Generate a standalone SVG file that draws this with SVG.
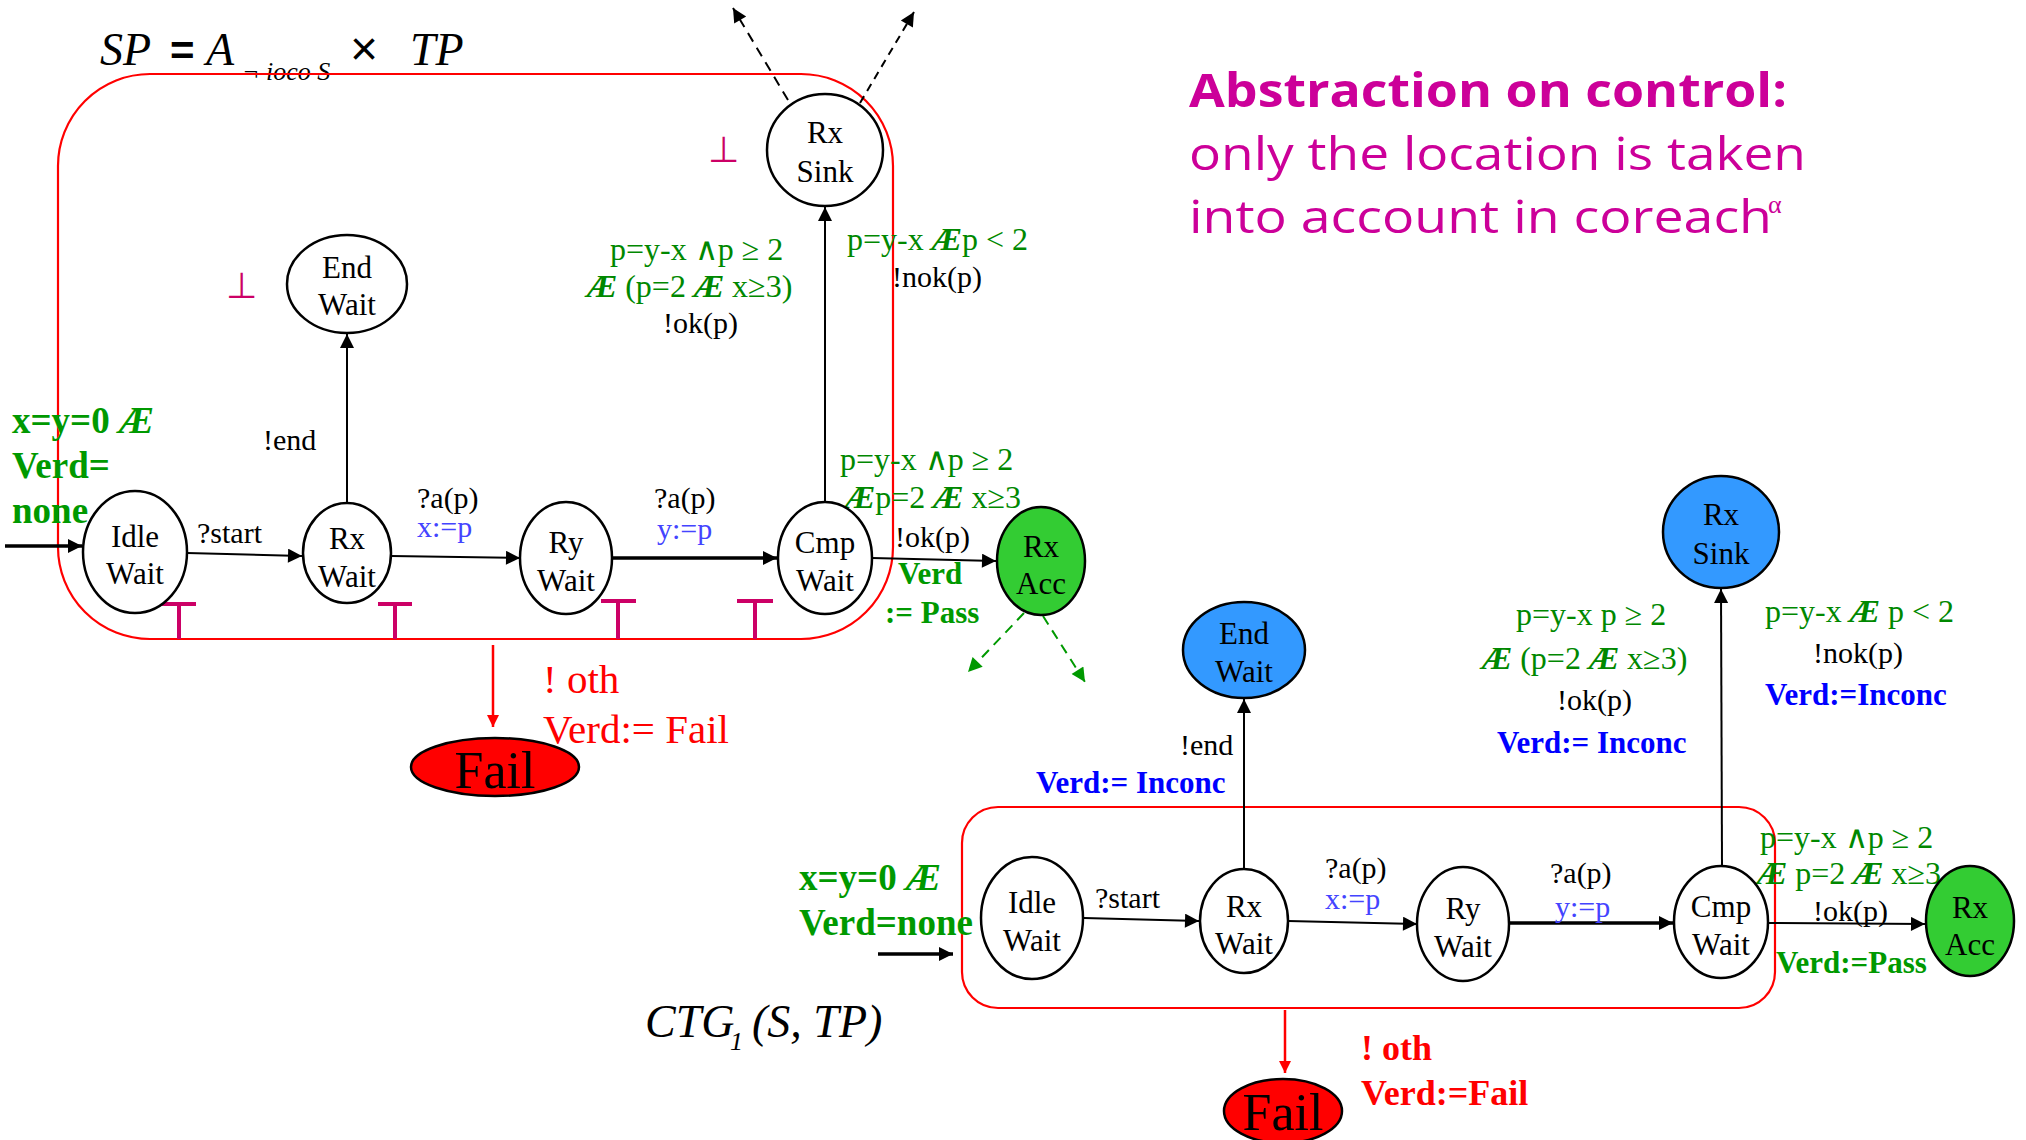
<svg xmlns="http://www.w3.org/2000/svg" width="2026" height="1140" viewBox="0 0 2026 1140">
<defs>
<marker id="ab" viewBox="0 0 10 10" refX="10" refY="5" markerWidth="18" markerHeight="14" markerUnits="userSpaceOnUse" orient="auto"><path d="M0,0 L10,5 L0,10 z" fill="#000"/></marker>
<marker id="ar" viewBox="0 0 10 10" refX="10" refY="5" markerWidth="16" markerHeight="12" markerUnits="userSpaceOnUse" orient="auto"><path d="M0,0 L10,5 L0,10 z" fill="#FF0000"/></marker>
<marker id="ag" viewBox="0 0 10 10" refX="10" refY="5" markerWidth="18" markerHeight="14" markerUnits="userSpaceOnUse" orient="auto"><path d="M0,0 L10,5 L0,10 z" fill="#009900"/></marker>
</defs>
<style>
text{font-family:"Liberation Serif","Times New Roman",serif}
.n{font-size:31px;fill:#000;text-anchor:middle}
.node{fill:#fff;stroke:#000;stroke-width:2.5}
.lbl{font-size:30px;fill:#000}
.grd{font-size:32px;fill:#008800}
.ae{font-weight:bold;font-style:italic}
.asg{font-size:30px;fill:#4444FF}
.gb{font-size:37px;fill:#009900;font-weight:bold}
.gs{font-size:31px;fill:#009900;font-weight:bold}
.bb{font-size:31px;fill:#0000FF;font-weight:bold}
.e{stroke:#000;stroke-width:2;fill:none;marker-end:url(#ab)}
.box{fill:none;stroke:#FF0000;stroke-width:2.2}
.tee{stroke:#CC0066;stroke-width:4;fill:none}
.bot{font-family:"DejaVu Sans",sans-serif;font-size:36px;fill:#CC0066}
.ttl{font-style:italic;font-size:46px;fill:#000}
.abs{font-family:"Open Sans","DejaVu Sans",sans-serif;fill:#CC0099;font-size:46px}
</style>
<rect width="2026" height="1140" fill="#fff"/>

<g id="title-sp">
<text class="ttl" x="100" y="65">SP</text>
<text x="170" y="65" style="font-family:'Liberation Sans',sans-serif;font-size:42px;font-weight:bold">=</text>
<text class="ttl" x="206" y="65">A</text>
<text x="242" y="80" style="font-style:italic;font-size:26px">¬ ioco S</text>
<text x="350" y="65" style="font-family:'Liberation Sans',sans-serif;font-size:48px">×</text>
<text class="ttl" x="410" y="65">TP</text>
</g>
<g id="title-abs">
<text class="abs" x="1189" y="107" font-weight="bold" textLength="598" lengthAdjust="spacingAndGlyphs">Abstraction on control:</text>
<text class="abs" x="1189" y="170" textLength="617" lengthAdjust="spacingAndGlyphs">only the location is taken</text>
<text class="abs" x="1189" y="233" textLength="583" lengthAdjust="spacingAndGlyphs">into account in coreach</text>
<text x="1768" y="213" style="font-family:'Liberation Serif',serif;font-size:26px;fill:#CC0099">α</text>
</g>
<g id="title-ctg">
<text class="ttl" x="645" y="1037">CTG</text>
<text x="730" y="1050" style="font-style:italic;font-size:26px">1</text>
<text class="ttl" x="752" y="1037">(S, TP)</text>
</g>

<g id="boundary-top">
<rect class="box" x="58" y="74" width="835" height="565" rx="92" ry="92"/>
<path class="tee" d="M162,604 H196 M179,604 V639 M378,604 H412 M395,604 V639 M601,601 H636 M618,601 V639 M737,601 H773 M755,601 V639"/>
<text class="bot" x="226" y="298">⊥</text>
<text class="bot" x="708" y="162">⊥</text>
</g>

<g id="connectors-top">
<line class="e" x1="5" y1="546" x2="82" y2="546" style="stroke-width:3.5"/>
<line class="e" x1="187" y1="553" x2="302" y2="556"/>
<line class="e" x1="391" y1="556" x2="520" y2="558"/>
<line class="e" x1="612" y1="558" x2="777" y2="558" style="stroke-width:3.5"/>
<line class="e" x1="872" y1="558" x2="996" y2="561"/>
<line class="e" x1="347" y1="504" x2="347" y2="334"/>
<line class="e" x1="825" y1="502" x2="825" y2="207"/>
<line class="e" x1="788" y1="100" x2="733" y2="8" stroke-dasharray="10,7"/>
<line class="e" x1="860" y1="103" x2="914" y2="12" stroke-dasharray="8,6"/>
<line x1="1024" y1="613" x2="968" y2="672" stroke="#009900" stroke-width="2" stroke-dasharray="10,7" marker-end="url(#ag)"/>
<line x1="1043" y1="616" x2="1085" y2="682" stroke="#009900" stroke-width="2" stroke-dasharray="10,7" marker-end="url(#ag)"/>
<line x1="493" y1="645" x2="493" y2="727" stroke="#FF0000" stroke-width="2.5" marker-end="url(#ar)"/>
</g>

<g id="labels-top">
<text class="gb" x="12" y="433">x=y=0 <tspan class="ae">Æ</tspan></text>
<text class="gb" x="12" y="478">Verd=</text>
<text class="gb" x="12" y="523">none</text>
<text class="lbl" x="197" y="543">?start</text>
<text class="lbl" x="263" y="450">!end</text>
<text class="lbl" x="417" y="508">?a(p)</text>
<text class="asg" x="417" y="537">x:=p</text>
<text class="lbl" x="654" y="508">?a(p)</text>
<text class="asg" x="657" y="539">y:=p</text>
<text class="grd" x="610" y="260">p=y-x  ∧p ≥ 2</text>
<text class="grd" x="587" y="297"><tspan class="ae">Æ</tspan>  (p=2 <tspan class="ae">Æ</tspan> x≥3)</text>
<text class="lbl" x="663" y="333">!ok(p)</text>
<text class="grd" x="847" y="250">p=y-x <tspan class="ae">Æ</tspan>p &lt; 2</text>
<text class="lbl" x="892" y="287">!nok(p)</text>
<text class="grd" x="840" y="470">p=y-x  ∧p ≥ 2</text>
<text class="grd" x="845" y="508"><tspan class="ae">Æ</tspan>p=2 <tspan class="ae">Æ</tspan> x≥3</text>
<text class="lbl" x="895" y="547">!ok(p)</text>
<text class="gs" x="898" y="584">Verd</text>
<text class="gs" x="885" y="623">:= Pass</text>
<text x="543" y="693" style="font-size:41px;fill:#FF0000">! oth</text>
<text x="543" y="743" style="font-size:41px;fill:#FF0000">Verd:= Fail</text>
</g>

<g id="n-idle-top"><ellipse class="node" cx="135" cy="552" rx="52" ry="61"/><text class="n" x="135" y="547">Idle</text><text class="n" x="135" y="584">Wait</text></g>
<g id="n-rx-top"><ellipse class="node" cx="347" cy="553" rx="44" ry="50"/><text class="n" x="347" y="549">Rx</text><text class="n" x="347" y="587">Wait</text></g>
<g id="n-ry-top"><ellipse class="node" cx="566" cy="558" rx="46" ry="56"/><text class="n" x="566" y="553">Ry</text><text class="n" x="566" y="591">Wait</text></g>
<g id="n-cmp-top"><ellipse class="node" cx="825" cy="558" rx="47" ry="56"/><text class="n" x="825" y="553">Cmp</text><text class="n" x="825" y="591">Wait</text></g>
<g id="n-acc-top"><ellipse class="node" cx="1041" cy="561" rx="44" ry="54" style="fill:#33CC33"/><text class="n" x="1041" y="557">Rx</text><text class="n" x="1041" y="594">Acc</text></g>
<g id="n-end-top"><ellipse class="node" cx="347" cy="284" rx="60" ry="49"/><text class="n" x="347" y="278">End</text><text class="n" x="347" y="315">Wait</text></g>
<g id="n-sink-top"><ellipse class="node" cx="825" cy="150" rx="58" ry="56"/><text class="n" x="825" y="143">Rx</text><text class="n" x="825" y="182">Sink</text></g>
<g id="n-fail-top"><ellipse class="node" cx="495" cy="767" rx="84" ry="29" style="fill:#FF0000"/><text class="n" x="495" y="788" style="font-size:52px">Fail</text></g>

<g id="boundary-bottom">
<rect class="box" x="962" y="807" width="813" height="201" rx="36" ry="36"/>
</g>

<g id="connectors-bottom">
<line class="e" x1="878" y1="954" x2="953" y2="954" style="stroke-width:3.5"/>
<line class="e" x1="1084" y1="918" x2="1199" y2="921"/>
<line class="e" x1="1288" y1="921" x2="1417" y2="924"/>
<line class="e" x1="1509" y1="923" x2="1673" y2="923" style="stroke-width:3.5"/>
<line class="e" x1="1769" y1="923" x2="1925" y2="924"/>
<line class="e" x1="1244" y1="869" x2="1244" y2="699"/>
<line class="e" x1="1722" y1="867" x2="1721" y2="589"/>
<line x1="1285" y1="1010" x2="1285" y2="1073" stroke="#FF0000" stroke-width="2.5" marker-end="url(#ar)"/>
</g>

<g id="labels-bottom">
<text class="gb" x="799" y="890">x=y=0 <tspan class="ae">Æ</tspan></text>
<text class="gb" x="799" y="935">Verd=none</text>
<text class="lbl" x="1095" y="908">?start</text>
<text class="lbl" x="1325" y="878">?a(p)</text>
<text class="asg" x="1325" y="909">x:=p</text>
<text class="lbl" x="1550" y="883">?a(p)</text>
<text class="asg" x="1555" y="917">y:=p</text>
<text class="grd" x="1760" y="848">p=y-x  ∧p ≥ 2</text>
<text class="grd" x="1757" y="884"><tspan class="ae">Æ</tspan> p=2 <tspan class="ae">Æ</tspan> x≥3</text>
<text class="lbl" x="1813" y="921">!ok(p)</text>
<text class="gs" x="1776" y="973">Verd:=Pass</text>
<text class="lbl" x="1180" y="755">!end</text>
<text class="bb" x="1036" y="793">Verd:= Inconc</text>
<text class="grd" x="1516" y="625">p=y-x p ≥ 2</text>
<text class="grd" x="1482" y="669"><tspan class="ae">Æ</tspan>  (p=2 <tspan class="ae">Æ</tspan> x≥3)</text>
<text class="lbl" x="1557" y="710">!ok(p)</text>
<text class="bb" x="1497" y="753">Verd:= Inconc</text>
<text class="grd" x="1765" y="622">p=y-x <tspan class="ae">Æ</tspan> p &lt; 2</text>
<text class="lbl" x="1813" y="663">!nok(p)</text>
<text class="bb" x="1765" y="705">Verd:=Inconc</text>
<text x="1361" y="1060" style="font-size:36px;fill:#FF0000;font-weight:bold">! oth</text>
<text x="1361" y="1105" style="font-size:36px;fill:#FF0000;font-weight:bold">Verd:=Fail</text>
</g>

<g id="n-idle-bot"><ellipse class="node" cx="1032" cy="918" rx="51" ry="61"/><text class="n" x="1032" y="913">Idle</text><text class="n" x="1032" y="951">Wait</text></g>
<g id="n-rx-bot"><ellipse class="node" cx="1244" cy="921" rx="44" ry="52"/><text class="n" x="1244" y="917">Rx</text><text class="n" x="1244" y="954">Wait</text></g>
<g id="n-ry-bot"><ellipse class="node" cx="1463" cy="924" rx="46" ry="57"/><text class="n" x="1463" y="919">Ry</text><text class="n" x="1463" y="957">Wait</text></g>
<g id="n-cmp-bot"><ellipse class="node" cx="1721" cy="922" rx="47" ry="56"/><text class="n" x="1721" y="917">Cmp</text><text class="n" x="1721" y="955">Wait</text></g>
<g id="n-acc-bot"><ellipse class="node" cx="1970" cy="921" rx="44" ry="55" style="fill:#33CC33"/><text class="n" x="1970" y="918">Rx</text><text class="n" x="1970" y="955">Acc</text></g>
<g id="n-end-bot"><ellipse class="node" cx="1244" cy="650" rx="61" ry="48" style="fill:#3399FF"/><text class="n" x="1244" y="644">End</text><text class="n" x="1244" y="682">Wait</text></g>
<g id="n-sink-bot"><ellipse class="node" cx="1721" cy="532" rx="58" ry="56" style="fill:#3399FF"/><text class="n" x="1721" y="525">Rx</text><text class="n" x="1721" y="564">Sink</text></g>
<g id="n-fail-bot"><ellipse class="node" cx="1283" cy="1111" rx="59" ry="32" style="fill:#FF0000"/><text class="n" x="1283" y="1130" style="font-size:52px">Fail</text></g>
</svg>
